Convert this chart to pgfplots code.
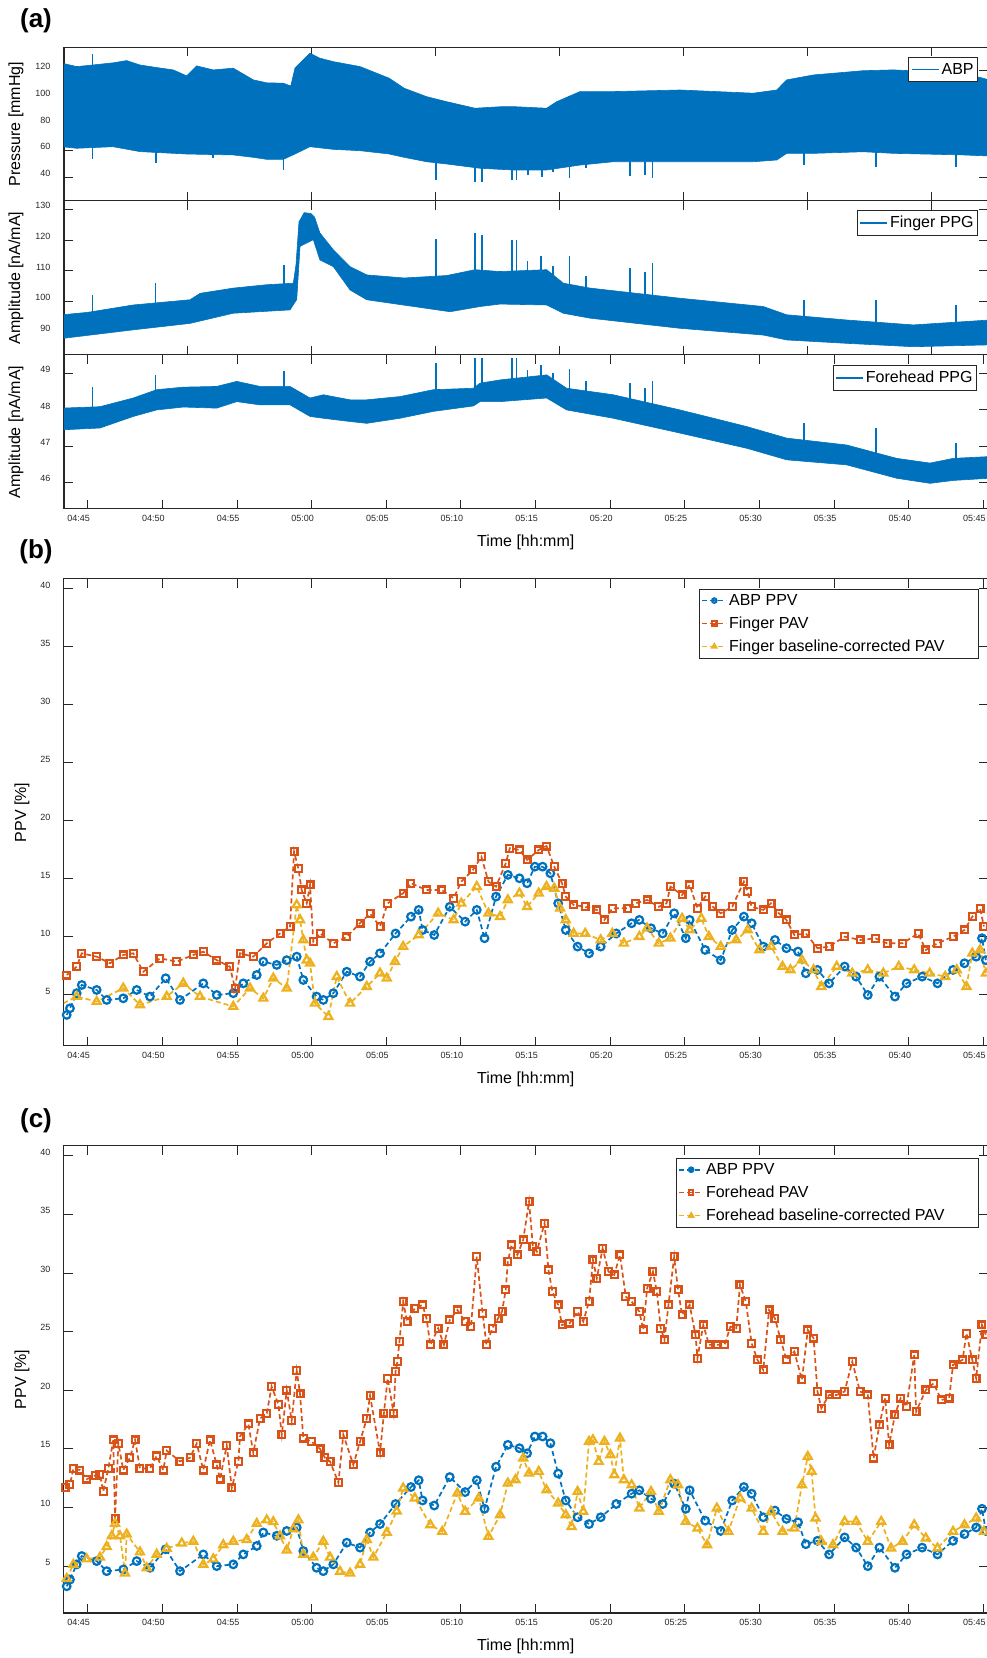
\documentclass[border=0pt]{standalone}
\usepackage{fontspec}
\setmainfont{Liberation Sans}
\usepackage{pgfplots}
\usepackage{pgfplotstable}
\pgfplotsset{compat=1.18}

\definecolor{mblue}{RGB}{0,114,189}
\definecolor{morange}{RGB}{217,83,25}
\definecolor{myellow}{RGB}{237,177,32}
\definecolor{axgray}{RGB}{38,38,38}

% ABP PPV (same series in b and c)
\pgfplotstableread{
t v
43.59 3.28
43.81 3.85
44.26 5.15
44.6 5.86
45.6 5.43
46.27 4.57
47.38 4.71
48.28 5.43
49.17 4.86
50.22 6.44
51.18 4.57
52.74 6.0
53.64 5.0
54.75 5.15
55.42 6.0
56.32 6.72
56.76 7.87
57.66 7.59
58.33 8.0
59.0 8.3
59.44 6.29
60.33 4.86
60.78 4.57
61.45 5.15
62.35 7.0
63.24 6.58
63.91 7.87
64.58 8.59
65.62 10.3
66.65 11.75
67.17 12.33
67.43 10.6
68.21 10.17
69.25 12.6
70.28 11.32
71.06 12.33
71.58 9.89
72.35 13.48
73.14 15.35
73.92 15.06
74.43 14.63
74.95 16.06
75.47 16.06
75.99 15.49
76.51 12.9
77.02 10.6
77.81 9.17
78.58 8.59
79.36 9.17
80.4 10.3
81.43 11.18
81.95 11.47
82.73 10.75
83.51 10.3
84.28 12.04
85.06 9.89
85.32 11.47
86.36 8.88
87.4 8.0
88.17 10.6
88.95 11.75
89.47 11.18
90.25 9.17
91.03 9.74
91.8 9.03
92.58 8.74
93.1 6.87
93.88 7.16
94.66 6.0
95.7 7.45
96.47 6.58
97.25 5.0
98.03 6.58
99.07 4.86
99.85 6.0
100.89 6.58
101.92 6.0
102.96 7.16
103.73 7.73
104.51 8.3
104.9 9.89
105.16 8.0
}\abp

% Finger PAV
\pgfplotstableread{
t v
43.59 6.72
44.26 7.44
44.6 8.59
45.6 8.3
46.49 7.73
47.38 8.45
48.05 8.59
48.72 7.0
49.84 8.16
50.96 7.87
52.07 8.45
52.74 8.73
53.64 8.0
54.52 7.44
54.87 5.57
55.2 8.59
56.09 8.3
56.99 9.45
57.88 10.3
58.55 10.9
58.82 17.35
59.11 15.9
59.33 14.05
59.67 12.9
59.89 14.48
60.11 9.6
60.56 10.3
61.45 9.45
62.35 10.0
63.24 11.2
63.91 12.0
64.58 10.9
65.09 12.9
66.13 13.77
66.65 14.63
67.69 14.05
68.72 14.05
69.51 13.34
70.02 14.77
70.8 15.78
71.37 16.92
71.84 14.77
72.35 14.34
73.0 16.35
73.27 17.65
73.92 17.5
74.43 16.64
75.21 17.5
75.73 17.84
76.25 16.06
76.77 14.63
77.02 13.48
77.55 12.76
78.32 12.6
79.1 12.33
79.61 11.47
80.14 12.47
81.18 12.47
81.69 12.9
82.47 13.19
83.25 12.6
83.77 12.9
84.03 14.34
84.81 13.62
85.32 14.48
85.84 12.47
86.36 13.48
86.88 12.6
87.4 12.04
88.17 12.6
88.95 14.77
89.21 13.9
89.47 12.6
90.25 12.33
90.77 12.9
91.29 12.04
91.8 11.47
92.33 10.17
93.1 10.3
93.88 9.03
94.66 9.17
95.7 10.03
96.73 9.74
97.77 9.88
98.55 9.45
99.58 9.45
100.62 10.3
101.14 8.88
101.92 9.45
102.96 10.03
103.73 10.6
104.25 11.75
104.77 12.47
105.03 10.9
}\fpav

% Finger baseline-corrected PAV
\pgfplotstableread{
t v
43.37 4.28
44.26 4.86
45.6 4.43
47.38 5.58
48.5 4.14
50.29 4.86
51.4 6.0
52.52 4.86
54.75 4.0
55.87 5.58
56.76 4.71
57.43 6.44
58.33 5.58
59.0 12.76
59.22 11.47
59.44 9.74
59.67 8.0
59.89 7.73
60.22 4.28
61.12 3.13
61.68 6.58
62.57 4.28
63.69 5.72
64.58 6.87
65.03 6.44
65.58 7.87
66.13 9.17
67.17 10.17
68.47 12.04
69.51 11.47
70.02 12.9
71.06 14.34
71.84 12.04
72.62 11.75
73.14 13.19
73.92 13.77
74.43 12.6
75.21 13.77
75.73 14.34
76.25 14.19
76.64 12.47
77.02 11.47
77.55 10.3
78.32 10.3
79.36 9.74
80.14 10.3
80.91 9.45
81.95 10.03
82.47 10.75
83.25 9.45
84.03 9.89
84.81 11.6
85.32 10.6
86.1 11.6
86.61 10.03
87.4 9.17
88.44 9.74
89.21 10.6
89.99 8.88
90.77 9.17
91.54 7.45
92.07 7.16
92.84 8.0
93.62 7.16
94.14 5.72
95.17 7.45
96.21 6.87
97.25 7.16
98.29 6.87
99.33 7.45
100.36 7.16
101.4 6.87
102.43 6.58
103.21 7.16
103.86 5.72
104.25 8.59
104.77 8.88
105.16 6.87
}\fbc

% Forehead PAV
\pgfplotstableread{
t v
43.48 11.73
43.81 11.97
44.04 13.33
44.48 13.2
44.93 12.42
45.49 12.73
45.82 12.8
46.04 11.37
46.38 13.33
46.71 15.77
46.83 9.09
47.05 15.46
47.38 13.2
47.83 14.25
48.17 15.77
48.5 13.33
49.17 13.33
49.62 14.4
50.06 13.2
50.29 14.85
51.18 13.94
51.85 14.25
52.3 15.46
52.74 13.2
53.19 15.77
53.64 13.64
53.86 12.42
54.31 15.3
54.65 11.67
55.09 13.94
55.2 16.07
55.76 17.13
56.09 14.67
56.54 17.59
56.99 18.04
57.32 20.32
57.77 18.8
58.0 16.22
58.33 20.02
58.66 17.43
59.0 21.68
59.22 19.7
59.44 15.92
60.0 15.62
60.56 15.0
60.89 14.25
61.23 13.94
61.79 12.12
62.12 16.22
62.79 13.64
63.24 15.62
63.69 17.59
63.91 19.56
64.58 14.67
64.84 18.05
65.09 21.03
65.49 18.05
65.62 21.6
65.74 22.45
65.88 24.16
66.13 27.57
66.39 25.87
66.91 27.0
67.43 27.29
67.69 26.15
67.95 23.88
68.47 25.3
68.86 23.88
69.25 26.01
69.76 26.86
70.28 25.87
70.67 25.44
71.06 31.41
71.45 26.58
71.71 23.88
72.1 25.3
72.49 26.15
72.75 26.72
73.0 28.57
73.14 30.99
73.39 32.41
73.78 31.56
74.17 32.84
74.56 36.11
74.82 32.27
75.08 31.84
75.6 34.26
75.86 30.28
76.12 28.43
76.51 27.29
76.77 25.58
77.28 25.73
77.81 26.72
78.19 25.87
78.58 27.57
78.84 31.13
79.1 29.56
79.49 32.13
79.88 30.13
80.27 29.85
80.65 31.56
81.04 28.0
81.43 27.57
81.95 26.72
82.21 25.16
82.47 28.71
82.86 30.13
83.12 28.43
83.38 25.3
83.63 24.3
83.9 27.29
84.28 31.41
84.54 28.57
84.81 26.44
85.32 27.29
85.71 24.73
85.84 22.74
86.23 25.58
86.62 23.88
87.14 23.88
87.66 23.88
88.05 25.44
88.44 25.3
88.69 28.99
89.08 27.57
89.47 24.02
89.86 22.6
90.25 21.74
90.64 26.86
91.03 26.15
91.42 24.3
91.8 22.6
92.33 23.31
92.84 20.89
93.23 25.16
93.62 24.45
93.88 19.9
94.14 18.47
94.66 19.61
95.17 19.61
95.7 19.9
96.21 22.45
96.73 19.9
97.25 19.61
97.64 14.21
98.03 17.05
98.42 19.33
98.68 15.34
99.07 17.9
99.45 19.33
99.84 18.61
100.36 23.02
100.49 18.19
101.14 20.04
101.66 20.6
102.18 19.18
102.7 19.33
102.96 22.17
103.6 22.6
103.86 24.87
104.25 22.6
104.51 21.03
104.9 25.58
105.16 24.73
}\hpav

% Forehead baseline-corrected PAV
\pgfplotstableread{
t v
43.59 3.93
44.04 5.14
44.93 5.6
45.82 5.75
46.27 6.66
46.61 7.57
46.83 8.63
47.16 7.57
47.5 4.39
47.61 7.72
48.5 6.2
48.95 4.84
49.62 6.0
50.29 6.5
51.3 6.96
52.07 7.11
52.74 5.14
53.41 5.6
54.08 6.81
54.75 7.11
55.65 7.26
56.32 8.63
56.99 8.93
57.43 8.78
57.88 7.57
58.33 6.36
58.77 8.17
59.11 8.93
59.44 6.0
60.11 5.75
60.78 7.11
61.23 5.75
61.9 4.54
62.57 4.39
63.24 5.14
63.69 7.26
64.13 5.75
65.03 7.87
65.7 9.69
66.13 11.65
66.91 10.8
67.95 8.52
68.74 7.95
69.76 11.22
70.28 9.66
71.19 10.8
71.84 7.52
72.62 9.37
73.14 12.07
73.65 12.36
74.17 14.21
74.56 12.93
75.21 13.07
75.73 11.5
76.51 10.37
77.02 9.37
77.41 8.37
77.81 11.36
78.19 9.66
78.58 15.63
78.84 15.77
79.23 13.92
79.61 15.63
80.01 14.49
80.27 12.78
80.65 15.91
80.91 12.36
81.43 11.93
81.95 9.94
82.73 11.36
83.25 9.66
84.03 12.36
84.54 11.93
85.06 8.8
85.84 8.23
86.49 6.81
87.14 9.94
87.91 7.95
88.69 10.8
89.47 9.94
90.25 7.95
90.77 9.66
91.54 7.95
92.33 8.23
92.84 11.93
93.23 14.35
93.49 13.07
93.75 9.09
94.14 7.1
94.92 6.81
95.7 8.8
96.47 8.8
97.25 7.1
98.15 8.8
98.81 6.53
99.58 7.1
100.36 8.52
101.14 7.38
101.92 6.53
102.96 7.95
103.73 8.52
104.51 9.09
105.03 7.95
}\hbc

\pgfplotsset{
  base/.style={
    scale only axis, width=923.5pt, anchor=south west,
    xmin=43.41, xmax=105.27,
    axis line style={draw=axgray, line width=1pt},
    tick style={draw=axgray, line width=1pt},
    major tick length=9pt,
    tick align=inside, xtick pos=both, ytick pos=both,
    ticklabel style={font=\fontsize{9}{10}\selectfont, text=axgray},
    /pgf/number format/assume math mode=true,
    yticklabel style={xshift=-10pt, yshift=4pt},
    xticklabel style={xshift=-9pt, yshift=-3pt},
    label style={font=\fontsize{16}{18}\selectfont},
    legend cell align=left,
    legend style={font=\fontsize{16}{18}\selectfont, draw=axgray, line width=0.7pt,
      fill=white, anchor=north east, inner xsep=2pt},
  },
  sigaxis/.style={
    base,
    legend style={inner ysep=4pt},
    legend image code/.code={\draw[##1, line width=1.8pt] (0pt,0pt) -- (27pt,0pt);},
    ylabel style={at={(axis description cs:-0.052,0.5)}, anchor=center},
  },
  ppvaxis/.style={
    base, height=467pt,
    ytick={5,10,...,40},
    ylabel={PPV [\%]},
    ylabel style={at={(axis description cs:-0.0455,0.5)}, anchor=center},
    legend style={row sep=6pt, inner ysep=3pt},
    legend image code/.code={\draw[mark repeat=2, mark phase=2, ##1, mark size=2.2pt]
      plot coordinates {(0pt,0pt) (12pt,0pt) (24pt,0pt)};},
  },
  timeaxis/.style={
    xtick={45,50,...,105},
    xticklabels={04:45,04:50,04:55,05:00,05:05,05:10,05:15,05:20,05:25,05:30,05:35,05:40,05:45},
    xlabel={Time [hh:mm]},
    xlabel style={at={(axis description cs:0.5,0)}, anchor=center, yshift=-33pt},
  },
  upperaxis/.style={
    xtick={51.66,59.97,68.28,76.59,84.9,93.21,101.52}, xticklabels={},
  },
  ppvline/.style={dash pattern=on 5pt off 3pt, line width=1.7pt,
    mark options={solid, line width=2.2pt}},
}

\begin{document}
\begin{tikzpicture}
\useasboundingbox (0,0) rectangle (987pt,1658pt);

\node[font=\fontsize{26}{28}\selectfont\bfseries] at (36pt,1637pt) {(a)};
\node[font=\fontsize{26}{28}\selectfont\bfseries] at (36pt,1106pt) {(b)};
\node[font=\fontsize{26}{28}\selectfont\bfseries] at (36pt,537pt) {(c)};

% (a) ABP
\begin{axis}[sigaxis, upperaxis, at={(64pt,1457pt)}, height=153.7pt,
  ymin=22.2, ymax=137.7, ytick={40,60,80,100,120},
  ylabel={Pressure [mmHg]},
  legend style={at={(axis description cs:0.9897,0.937)}}]
\addplot[fill=mblue, draw=mblue, line width=0.6pt, forget plot] coordinates {
(43.3,125.7)(44.26,123.2)(45.0,124)(46.69,126)(47.61,127.7)(48.5,124.4)(49.6,122.5)
(50.73,120.7)(51.63,116.2)(52.3,123.7)(53.41,120.7)(54.75,122)(56.09,113.2)(56.99,111)
(58.1,110.7)(58.6,108.6)(58.88,122)(59.88,133.2)(60.55,129.5)(61.45,126.9)(63.24,123.2)
(65.2,114.4)(66.2,106.9)(67.7,100.6)(69.05,96.8)(70.94,91.9)(72.6,93)(73.51,93.1)
(75.74,91.9)(76.41,96.8)(77.97,104.4)(80.2,104.4)(84.67,105.6)(89.58,103.2)(91.15,105.6)
(91.82,113.2)(93.6,116.9)(96.95,120.1)(98.96,120.7)(103.65,118.2)(105.4,113.2)
(105.4,56)(103.65,56.8)(98.96,58)(96.95,59.2)(93.6,58)(91.82,58)(91.15,53)(89.58,51.7)
(84.67,51.7)(80.2,51.7)(77.97,49.2)(75.74,45.5)(73.51,45.5)(72.6,46)(71.28,46.8)
(69.05,50)(67.7,51.7)(66.2,55)(65.2,57.5)(63.24,60)(61.45,61)(59.88,63)(58.88,57.5)
(58.1,53.5)(56.99,53.5)(56.09,55)(54.75,56.8)(51.63,57.5)(48.5,59.3)(46.69,63)
(44.26,61.8)(43.3,63)};
\addplot[mblue, line width=1.6pt, unbounded coords=jump] coordinates {
(45.33,80)(45.33,53.5)(45.33,nan)(45.33,110)(45.33,133)(45.33,nan)
(49.57,80)(49.57,50.5)(49.57,nan)(53.41,80)(53.41,54.3)(53.41,nan)
(58.1,80)(58.1,45.5)(58.1,nan)(68.31,70)(68.31,38)(68.31,nan)
(70.94,70)(70.94,36.7)(70.94,nan)(71.39,70)(71.39,36.7)(71.39,nan)
(73.4,70)(73.4,38)(73.4,nan)(73.73,70)(73.73,38)(73.73,nan)
(74.51,70)(74.51,41.7)(74.51,nan)(75.41,70)(75.41,40.5)(75.41,nan)
(76.17,70)(76.17,44.2)(76.17,nan)(77.26,70)(77.26,39.2)(77.26,nan)
(78.38,70)(78.38,46.8)(78.38,nan)(81.32,70)(81.32,41)(81.32,nan)
(82.33,70)(82.33,41.7)(82.33,nan)(82.84,70)(82.84,39.7)(82.84,nan)
(92.98,80)(92.98,49.2)(92.98,nan)(97.8,80)(97.8,47.5)(97.8,nan)
(103.16,80)(103.16,47.5)};
\addlegendentry{ABP}
\end{axis}

% (a) Finger PPG
\begin{axis}[sigaxis, upperaxis, at={(64pt,1303pt)}, height=154pt,
  ymin=82.6, ymax=132.8, ytick={90,100,...,130},
  ylabel={Amplitude [nA/mA]},
  legend style={at={(axis description cs:0.9897,0.9416)}}]
\addplot[fill=mblue, draw=mblue, line width=0.6pt, forget plot] coordinates {
(43.3,95.7)(45.0,96.5)(48.05,98.9)(51.85,100.6)(52.53,102.7)(54.75,104.4)(56.99,105.5)
(58.77,106)(58.95,112)(59.15,126)(59.5,129)(59.95,128.7)(60.2,127.5)(60.55,122.4)
(61.45,116.9)(62.57,111.4)(63.69,108.7)(66.2,107.7)(69.05,108.5)(70.94,110.4)(72.6,109.8)
(75.74,110.4)(76.86,106)(78.65,104.4)(84.67,101.1)(90.25,98.4)(91.82,95.7)(95.84,94)
(100.3,92.4)(105.4,94)
(105.4,85.9)(100.3,85.3)(95.84,86.4)(91.82,87.5)(90.25,89.1)(84.67,91.3)(78.65,94.6)
(76.86,96.2)(75.74,98.9)(72.62,99.2)(71.28,98.4)(69.27,96.7)(63.69,100.6)(62.57,103.8)
(61.45,111.4)(60.55,113.6)(60.11,120.2)(59.22,118)(59.0,100.7)(58.55,97.3)(54.73,96.2)
(51.85,92.9)(48.05,90.8)(43.3,88)};
\addplot[mblue, line width=1.6pt, unbounded coords=jump] coordinates {
(45.33,95)(45.33,102.2)(45.33,nan)(49.53,97)(49.53,106.2)(49.53,nan)
(58.15,103)(58.15,112)(58.15,nan)(68.31,105)(68.31,120.4)(68.31,nan)
(70.94,106)(70.94,122.5)(70.94,nan)(71.39,106)(71.39,121.8)(71.39,nan)
(73.4,106)(73.4,120.2)(73.4,nan)(73.73,106)(73.73,120.2)(73.73,nan)
(74.46,106)(74.46,113.1)(74.46,nan)(75.36,106)(75.36,114.9)(75.36,nan)
(76.18,105)(76.18,111.7)(76.18,nan)(77.26,104)(77.26,114.9)(77.26,nan)
(78.38,103)(78.38,108.2)(78.38,nan)(81.32,101)(81.32,111.1)(81.32,nan)
(82.33,101)(82.33,109.8)(82.33,nan)(82.84,101)(82.84,112.7)(82.84,nan)
(92.98,93)(92.98,100.6)(92.98,nan)(97.8,91)(97.8,100.5)(97.8,nan)
(103.16,90)(103.16,98.9)};
\addlegendentry{Finger PPG}
\end{axis}

% (a) Forehead PPG
\begin{axis}[sigaxis, timeaxis, at={(64pt,1149pt)}, height=154pt,
  ymin=45.26, ymax=49.52, ytick={46,47,48,49},
  ylabel={Amplitude [nA/mA]},
  legend style={at={(axis description cs:0.9886,0.935)}}]
\addplot[fill=mblue, draw=mblue, line width=0.6pt, forget plot] coordinates {
(43.3,48.05)(45.82,48.09)(48.05,48.33)(49.62,48.56)(51.4,48.63)(53.64,48.65)(54.98,48.79)
(56.54,48.65)(58.55,48.65)(59.89,48.33)(60.78,48.42)(62.57,48.28)(63.69,48.28)(65.92,48.37)
(68.15,48.56)(70.83,48.6)(71.28,48.74)(72.62,48.83)(75.74,48.97)(77.08,48.6)(80.2,48.42)
(84.67,48.0)(89.14,47.54)(91.82,47.22)(95.84,47.03)(99.19,46.66)(101.42,46.53)(102.98,46.66)
(105.4,46.71)
(105.4,46.11)(102.98,46.05)(101.42,45.97)(99.19,46.11)(95.84,46.48)(91.82,46.62)(89.14,46.94)
(84.67,47.36)(80.2,47.77)(77.08,48.0)(75.74,48.33)(72.62,48.23)(71.28,48.23)(70.83,48.11)
(68.15,47.96)(65.92,47.77)(63.69,47.63)(62.57,47.68)(60.78,47.77)(59.89,47.82)(58.55,48.14)
(56.54,48.14)(54.98,48.23)(53.64,48.05)(51.4,48.08)(49.62,48.0)(48.05,47.82)(45.82,47.5)
(43.3,47.45)};
\addplot[mblue, line width=1.6pt, unbounded coords=jump] coordinates {
(45.33,48.0)(45.33,48.63)(45.33,nan)(49.53,48.3)(49.53,48.97)(49.53,nan)
(58.15,48.4)(58.15,49.09)(58.15,nan)(68.31,48.3)(68.31,49.31)(68.31,nan)
(70.94,48.3)(70.94,49.43)(70.94,nan)(71.39,48.4)(71.39,49.43)(71.39,nan)
(73.4,48.5)(73.4,49.43)(73.4,nan)(73.73,48.5)(73.73,49.43)(73.73,nan)
(74.46,48.5)(74.46,49.11)(74.46,nan)(75.36,48.5)(75.36,49.25)(75.36,nan)
(76.18,48.5)(76.18,49.02)(76.18,nan)(77.26,48.3)(77.26,49.13)(77.26,nan)
(78.38,48.2)(78.38,48.79)(78.38,nan)(81.32,48.0)(81.32,48.74)(81.32,nan)
(82.33,48.0)(82.33,48.62)(82.33,nan)(82.84,48.0)(82.84,48.81)(82.84,nan)
(92.98,47.0)(92.98,47.63)(92.98,nan)(97.8,46.7)(97.8,47.5)(97.8,nan)
(103.16,46.3)(103.16,47.08)};
\addlegendentry{Forehead PPG}
\end{axis}

% (b)
\begin{axis}[ppvaxis, timeaxis, at={(64pt,612pt)}, ymin=0.6, ymax=40.86,
  legend style={at={(axis description cs:0.9908,0.9786)}}]
\addplot[ppvline, mblue, mark=o, mark size=3.8pt] table[x=t, y=v] {\abp};
\addlegendentry{ABP PPV}
\addplot[ppvline, morange, mark=square, mark size=3.4pt] table[x=t, y=v] {\fpav};
\addlegendentry{Finger PAV}
\addplot[ppvline, myellow, mark=triangle, mark size=4.6pt] table[x=t, y=v] {\fbc};
\addlegendentry{Finger baseline-corrected PAV\hspace*{30pt}}
\end{axis}

% (c)
\begin{axis}[ppvaxis, timeaxis, at={(64pt,45pt)}, ymin=1.0, ymax=40.85,
  legend style={at={(axis description cs:0.9908,0.974)}}]
\addplot[ppvline, mblue, mark=o, mark size=3.8pt] table[x=t, y=v] {\abp};
\addlegendentry{ABP PPV}
\addplot[ppvline, morange, mark=square, mark size=3.4pt] table[x=t, y=v] {\hpav};
\addlegendentry{Forehead PAV}
\addplot[ppvline, myellow, mark=triangle, mark size=4.6pt] table[x=t, y=v] {\hbc};
\addlegendentry{Forehead baseline-corrected PAV\hspace*{30pt}}
\end{axis}
\end{tikzpicture}
\end{document}
